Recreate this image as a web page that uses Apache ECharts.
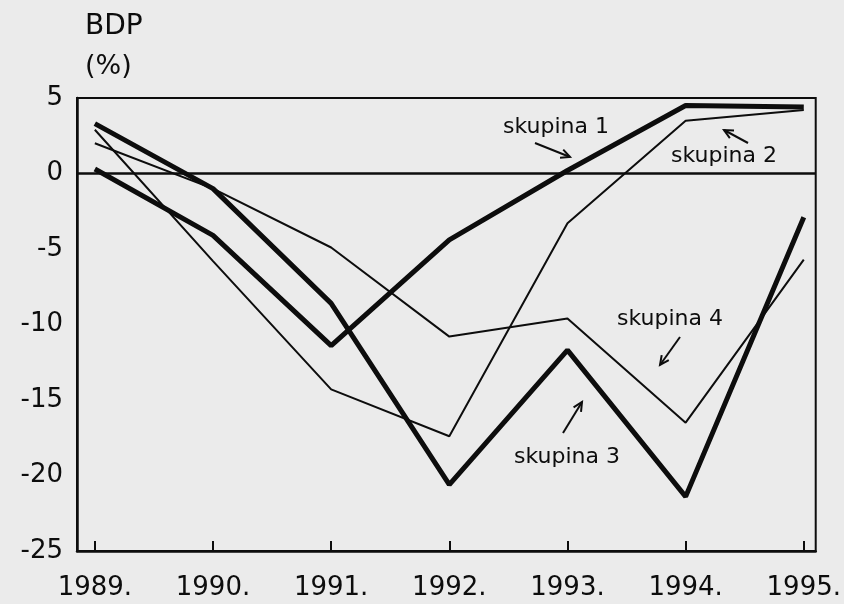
<!DOCTYPE html>
<html>
<head>
<meta charset="utf-8">
<script src="https://cdn.jsdelivr.net/npm/echarts@6/dist/echarts.min.js"></script>
<style>
html,body{margin:0;padding:0;background:#ebebeb;}
#c{width:844px;height:604px;}
</style>
</head>
<body>
<div id="c"></div>
<script>
// ---- data ----
var years = [1989, 1990, 1991, 1992, 1993, 1994, 1995];
var skupina1 = [0.3, -4.1, -11.4, -4.4, 0.2, 4.5, 4.4];
var skupina2 = [2.9, -5.8, -14.3, -17.4, -3.3, 3.5, 4.2];
var skupina3 = [3.3, -1.0, -8.6, -20.6, -11.7, -21.4, -2.9];
var skupina4 = [2.0, -1.0, -4.9, -10.8, -9.6, -16.5, -5.7];
var seriesNames = ['skupina 1', 'skupina 2', 'skupina 3', 'skupina 4'];
var yTicks = [5, 0, -5, -10, -15, -20, -25];

function pairs(arr) { return years.map(function (y, i) { return [y, arr[i]]; }); }

var FONT = 'DejaVu Sans';
var INK = '#0d0d0d';

function arrow(x1, y1, x2, y2) {
  var ang = Math.atan2(y2 - y1, x2 - x1), L = 10, a = 0.45;
  var p1 = [x2 - L * Math.cos(ang - a), y2 - L * Math.sin(ang - a)];
  var p2 = [x2 - L * Math.cos(ang + a), y2 - L * Math.sin(ang + a)];
  return [
    { type: 'line', shape: { x1: x1, y1: y1, x2: x2, y2: y2 }, style: { stroke: INK, lineWidth: 2 }, z: 10 },
    { type: 'polyline', shape: { points: [p1, [x2, y2], p2] }, style: { stroke: INK, lineWidth: 2, fill: null }, z: 10 }
  ];
}
function label(text, x, y, size) {
  return { type: 'text', x: x, y: y, z: 10,
    style: { text: text, fontFamily: FONT, fontSize: size, fill: INK, verticalAlign: 'middle', align: 'left' } };
}

var graphics = [
  label('BDP', 85, 27, 28),
  label('(%)', 85, 67, 27),
  label(seriesNames[0], 503, 127, 22),
  label(seriesNames[1], 671, 156, 22),
  label(seriesNames[3], 617, 319, 22),
  label(seriesNames[2], 514, 457, 22)
].concat(arrow(535, 143, 570, 157), arrow(748, 143, 724, 130), arrow(680, 337, 660, 365), arrow(563, 433, 582, 402));

var chart = echarts.init(document.getElementById('c'), null, { renderer: 'canvas' });
chart.setOption({
  backgroundColor: '#ebebeb',
  animation: false,
  grid: { left: 77, top: 98, right: 23, bottom: 53, show: true, borderColor: INK, borderWidth: 2, backgroundColor: 'transparent' },
  xAxis: {
    type: 'value', min: 1988.849, max: 1995.101,
    axisLine: { show: true, onZero: false, lineStyle: { color: INK, width: 2.5 } },
    axisTick: { show: true, inside: true, length: 10, customValues: years, lineStyle: { color: INK, width: 2 } },
    axisLabel: { customValues: years, formatter: function (v) { return v + '.'; }, fontFamily: FONT, fontSize: 26, color: INK, margin: 24 },
    splitLine: { show: false }
  },
  yAxis: {
    type: 'value', min: -25, max: 5, interval: 5,
    axisLine: { show: true, onZero: false, lineStyle: { color: INK, width: 2.5 } },
    axisTick: { show: false },
    axisLabel: { fontFamily: FONT, fontSize: 26, color: INK, margin: 14 },
    splitLine: { show: false }
  },
  series: [
    { name: seriesNames[0], type: 'line', data: pairs(skupina1), showSymbol: false, symbol: 'none',
      lineStyle: { color: INK, width: 5 },
      markLine: { silent: true, symbol: 'none', label: { show: false }, lineStyle: { color: INK, width: 2.5, type: 'solid' }, data: [{ yAxis: 0 }] } },
    { name: seriesNames[1], type: 'line', data: pairs(skupina2), showSymbol: false, symbol: 'none', lineStyle: { color: INK, width: 2 } },
    { name: seriesNames[2], type: 'line', data: pairs(skupina3), showSymbol: false, symbol: 'none', lineStyle: { color: INK, width: 5 } },
    { name: seriesNames[3], type: 'line', data: pairs(skupina4), showSymbol: false, symbol: 'none', lineStyle: { color: INK, width: 2 } }
  ],
  graphic: graphics
});
</script>
</body>
</html>
